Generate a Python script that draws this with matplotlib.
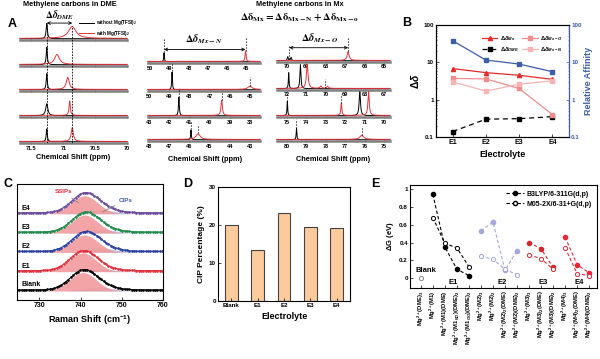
import numpy as np
import matplotlib.pyplot as plt
from matplotlib.lines import Line2D

plt.rcParams['font.family'] = ['Liberation Sans', 'DejaVu Sans']
plt.rcParams['font.weight'] = 'bold'
plt.rcParams['axes.labelweight'] = 'bold'
plt.rcParams['mathtext.fontset'] = 'custom'
plt.rcParams['mathtext.rm'] = 'Liberation Sans:bold'
plt.rcParams['mathtext.it'] = 'Liberation Sans:italic:bold'
plt.rcParams['mathtext.bf'] = 'Liberation Sans:bold'
plt.rcParams['xtick.direction'] = 'in'
plt.rcParams['ytick.direction'] = 'in'
plt.rcParams['axes.linewidth'] = 0.8

W, H = 600, 359

# ---------------- panel A : 13C NMR peaks (position ppm, height, half width) ----------------
dme_xlim = (71.68, 70.0)
dme_ticks = [71.5, 71, 70.5, 70]
dme_ticklabels = ['71.5', '71', '70.5', '70']
dme_ppm_free = [71.26, 71.26, 71.26, 71.26, 71.26]
dme_int_free = [0.95, 1.10, 1.00, 0.75, 0.80]
dme_hw_free = [0.012, 0.010, 0.010, 0.020, 0.010]
dme_ppm_mg = [70.86, 71.10, 70.93, 70.90, 70.86]
dme_int_mg = [0.75, 0.62, 0.75, 0.90, 0.85]
dme_hw_mg = [0.07, 0.045, 0.028, 0.012, 0.02]

mxn_xlim = [(50.1, 44.3), (50.05, 44.5), (43.05, 37.5), (48.05, 42.5)]
mxn_ticks = [[50, 49, 48, 47, 46, 45], [50, 49, 48, 47, 46, 45],
             [43, 42, 41, 40, 39, 38], [48, 47, 46, 45, 44, 43]]
mxn_free = [[(49.27, 0.55, 0.02)], [(48.86, 1.10, 0.02)],
            [(41.52, 1.15, 0.025)], [(45.92, 0.60, 0.02)]]
mxn_mg = [[(45.05, 0.65, 0.03)], [(45.0, 0.20, 0.12)],
          [(39.40, 0.95, 0.04)], [(45.57, 0.35, 0.12)]]
mxn_marks = [[49.27, 45.05], [48.86, 45.0], [41.52, 39.40], [45.92, 45.57]]

mxo_xlim = [(70.5, 64.7), (72.5, 66.7), (75.5, 69.7), (80.5, 74.7)]
mxo_ticks = [[70, 69, 68, 67, 66, 65], [72, 71, 70, 69, 68, 67],
             [75, 74, 73, 72, 71, 70], [80, 79, 78, 77, 76, 75]]
mxo_free = [[(69.95, 0.25, 0.03), (69.78, 0.2, 0.03)],
            [(71.9, 1.0, 0.02), (71.3, 1.5, 0.03)],
            [(74.97, 0.9, 0.02), (71.25, 1.5, 0.04)],
            [(79.5, 0.7, 0.02)]]
mxo_mg = [[(66.85, 0.55, 0.06)],
          [(70.95, 1.5, 0.05), (70.25, 0.15, 0.05), (69.9, 0.12, 0.05)],
          [(72.2, 0.75, 0.03), (70.8, 1.5, 0.04)],
          [(76.15, 0.25, 0.12)]]
mxo_marks = [[69.87, 66.85], [70.05], [74.97, 72.2], [79.5, 76.15]]

# ---------------- panel B ----------------
electrolytes = ['E1', 'E2', 'E3', 'E4']
dd_mx = [6.8, 5.3, 4.5, 3.5]
dd_dme = [0.14, 0.30, 0.31, 0.35]
dd_mxo = [3.7, 3.6, 2.0, 0.4]
dd_mxn = [3.0, 1.7, 2.6, 3.2]
affinity = [38, 11.5, 9.0, 5.6]

# ---------------- panel C : Raman fit components ----------------
raman_names = ['Blank', 'E1', 'E2', 'E3', 'E4']
raman_colors = ['black', '#E0303E', '#2B3FA0', '#1F8A4A', '#6A4C9C']
ssip_center = [740.6, 740.6, 741.0, 741.0, 741.0]
ssip_height = [0.95, 0.97, 0.90, 0.93, 0.93]
cip_center = [744.5, 744.5, 744.8, 744.8, 744.8]
cip_height = [0.18, 0.13, 0.22, 0.19, 0.19]

# ---------------- panel D ----------------
cip_names = ['Blank', 'E1', 'E2', 'E3', 'E4']
cip_percent = [20.0, 13.5, 23.2, 19.5, 19.1]

# ---------------- panel E ----------------
dg_labels = [r'Mg$^{2+}$(DME)$_3$', r'Mg$^{2+}$(M1)', r'Mg$^{2+}$(M1)(DME)',
             r'Mg$^{2+}$(M1$_{NO}$)(DME)$_2$', r'Mg$^{2+}$(M1$_{OO}$)(DME)$_2$',
             r'Mg$^{2+}$(M2)$_3$', r'Mg$^{2+}$(M2)$_2$', r'Mg$^{2+}$(M2)$_2$(DME)',
             r'Mg$^{2+}$(M2)(DME)$_2$',
             r'Mg$^{2+}$(M3)$_3$', r'Mg$^{2+}$(M3)$_2$(DME)', r'Mg$^{2+}$(M3)(DME)$_2$',
             r'Mg$^{2+}$(M4)$_3$', r'Mg$^{2+}$(M4)$_2$(DME)', r'Mg$^{2+}$(M4)(DME)$_2$']
dg_b3lyp = [np.nan, 0.94, 0.35, 0.10, 0.03, 0.53, 0.63, 0.09, 0.31,
            0.40, 0.33, 0.12, 0.46, 0.15, 0.06]
dg_m05 = [0.0, 0.68, 0.39, 0.34, 0.13, 0.25, 0.21, 0.10, 0.04,
          0.26, 0.22, 0.10, 0.34, 0.05, 0.03]
dg_groups = {'E1': (1, 5), 'E2': (5, 9), 'E3': (9, 12), 'E4': (12, 15)}
dg_colors = {'E1': 'black', 'E2': '#A3A8DA', 'E3': '#D22B2B', 'E4': '#EC2538'}


def box(l, t, r, b):
    return [l / W, 1 - b / H, (r - l) / W, (b - t) / H]


def txt(x, y, s, **kw):
    fig.text(x / W, 1 - y / H, s, **kw)


def lorentz(x, peaks):
    y = np.zeros_like(x)
    for p, h, w in peaks:
        y += h * w ** 2 / ((x - p) ** 2 + w ** 2)
    return y


def gauss(x, c, h, s):
    return h * np.exp(-0.5 * ((x - c) / s) ** 2)


fig = plt.figure(figsize=(6, 3.59), dpi=100)


def nmr_row(l, r, base, xlim, ticks, free, mg, labels=True, ticklabels=None):
    ax = fig.add_axes(box(l, base - 26, r, base))
    x = np.linspace(xlim[0], xlim[1], 2000)
    ax.plot(x, lorentz(x, free), color='black', lw=0.7, clip_on=False)
    ax.plot(x, lorentz(x, mg) + 0.02, color='#E8303A', lw=0.7, clip_on=False)
    ax.set_xlim(xlim)
    ax.set_ylim(-0.08, 26 / 16 - 0.08)
    for s in ['top', 'left', 'right']:
        ax.spines[s].set_visible(False)
    ax.spines['bottom'].set_color('#808080')
    ax.spines['bottom'].set_linewidth(1.8)
    ax.set_yticks([])
    ax.set_xticks(ticks)
    if ticklabels is not None:
        ax.set_xticklabels(ticklabels)
    ax.tick_params(axis='x', labelsize=4, length=2, width=0.5, pad=0.8,
                   direction='inout', labelbottom=labels)
    ax.patch.set_alpha(0)
    return ax


def marks(ax, positions, free, mg, up=0.55):
    for p in positions:
        x = np.array([p])
        y0 = max(lorentz(x, free)[0], lorentz(x, mg)[0])
        ax.plot([p, p], [y0 + 0.05, y0 + up], ls=':', color='black', lw=0.8, clip_on=False)


# ---- A: DME column
dme_bases = [40, 66, 91, 117, 143]
for i, base in enumerate(dme_bases):
    nmr_row(20, 127, base, dme_xlim, dme_ticks,
            [(dme_ppm_free[i], dme_int_free[i], dme_hw_free[i])],
            [(dme_ppm_mg[i], dme_int_mg[i], dme_hw_mg[i])], labels=(i == 4),
            ticklabels=dme_ticklabels)
ov = fig.add_axes(box(20, 20, 127, 143))
ov.set_xlim(dme_xlim)
ov.axis('off')
tr = ov.get_xaxis_transform()
ov.plot([dme_ppm_free[0]] * 2, [0, 0.96], transform=tr, color='black', lw=0.6, dashes=(2, 1.5))
ov.plot([dme_ppm_mg[0]] * 2, [0, 0.94], transform=tr, color='black', lw=0.6, dashes=(2, 1.5))
ov.annotate('', xy=(dme_ppm_mg[0], 0.975), xytext=(dme_ppm_free[0], 0.975),
            xycoords=tr, textcoords=tr, annotation_clip=False,
            arrowprops=dict(arrowstyle='<->', lw=0.6, color='black', shrinkA=0, shrinkB=0,
                            mutation_scale=5))
ov.text(71.06, 1.04, r'$\Delta\delta_{DME}$', transform=tr, ha='center', va='center',
        fontsize=7, math_fontfamily='stix')

fig.legend([Line2D([], [], color='black', lw=0.7), Line2D([], [], color='#E8303A', lw=0.7)],
           [r'without Mg(TFSI)$_2$', r'with Mg(TFSI)$_2$'], loc='upper left',
           bbox_to_anchor=(77 / W, 1 - 16 / H), fontsize=3.3, frameon=False,
           handlelength=3.2, handletextpad=0.4, labelspacing=0.3, borderpad=0)

# ---- A: Mx-N column
mxn_bases = [63, 91, 117, 141]
mxn_axes = []
for i, base in enumerate(mxn_bases):
    ax = nmr_row(148, 260, base, mxn_xlim[i], mxn_ticks[i], mxn_free[i], mxn_mg[i])
    marks(ax, mxn_marks[i], mxn_free[i], mxn_mg[i], up=(0.85 if i == 0 else 0.6))
    mxn_axes.append(ax)
tr = mxn_axes[0].get_xaxis_transform()
mxn_axes[0].annotate('', xy=(mxn_marks[0][1], 0.52), xytext=(mxn_marks[0][0], 0.52),
                     xycoords=tr, textcoords=tr, annotation_clip=False,
                     arrowprops=dict(arrowstyle='<->', lw=0.6, color='black', shrinkA=0,
                                     shrinkB=0, mutation_scale=5))
mxn_axes[0].text(47.2, 0.9, r'$\Delta\delta_{Mx-N}$', transform=tr, ha='center', va='center',
                 fontsize=7.5, math_fontfamily='stix')

# ---- A: Mx-O column
mxo_bases = [62, 90, 117, 141]
mxo_axes = []
for i, base in enumerate(mxo_bases):
    ax = nmr_row(277, 390, base, mxo_xlim[i], mxo_ticks[i], mxo_free[i], mxo_mg[i])
    marks(ax, mxo_marks[i], mxo_free[i], mxo_mg[i], up=(0.9 if i == 0 else 0.6))
    mxo_axes.append(ax)
tr = mxo_axes[0].get_xaxis_transform()
mxo_axes[0].annotate('', xy=(mxo_marks[0][1], 0.55), xytext=(mxo_marks[0][0], 0.55),
                     xycoords=tr, textcoords=tr, annotation_clip=False,
                     arrowprops=dict(arrowstyle='<->', lw=0.6, color='black', shrinkA=0,
                                     shrinkB=0, mutation_scale=5))
mxo_axes[0].text(68.3, 0.93, r'$\Delta\delta_{Mx-O}$', transform=tr, ha='center', va='center',
                 fontsize=7.5, math_fontfamily='stix')

txt(8, 24, 'A', fontsize=9, ha='left', va='center')
txt(70, 5, 'Methylene carbons in DME', fontsize=5.3, ha='center', va='center')
txt(300, 5, 'Methylene carbons in Mx', fontsize=5.3, ha='center', va='center')
txt(300, 18, r'$\mathbf{\Delta\delta_{Mx}=\Delta\delta_{Mx-N}+\Delta\delta_{Mx-o}}$',
    fontsize=7.5, ha='center', va='center', math_fontfamily='stix')
for xc, yc in [(73, 157), (205, 160), (333, 160)]:
    txt(xc, yc, 'Chemical Shift (ppm)', fontsize=5.3, ha='center', va='center')

# ---- B
axB = fig.add_axes(box(436, 25, 569, 137))
xb = np.arange(1, len(electrolytes) + 1)
axB.plot(xb, dd_mx, '-^', color='#E32B2B', ms=3, lw=0.9, label=r'$\Delta\delta_{Mx}$')
axB.plot(xb, dd_dme, '--s', color='black', ms=2.5, lw=0.9, dashes=(4, 3),
         label=r'$\Delta\delta_{DME}$')
axB.plot(xb, dd_mxo, '-s', color='#F08C8C', ms=2.5, lw=0.9, label=r'$\Delta\delta_{Mx-O}$')
axB.plot(xb, dd_mxn, '-s', color='#F6B3B3', ms=2.5, lw=0.9, label=r'$\Delta\delta_{Mx-N}$')
axB.set_yscale('log')
axB.set_ylim(0.1, 100)
axB.set_xlim(0.5, 4.5)
axB.set_xticks(xb)
axB.set_xticklabels(electrolytes)
axB.set_yticks([0.1, 1, 10, 100])
axB.set_yticklabels(['0.1', '1', '10', '100'])
axB.tick_params(labelsize=4.5, length=2, width=0.5, pad=1.5)
axB.tick_params(axis='x', labelsize=5)
axB.tick_params(which='minor', length=1, width=0.4)
axB.set_xlabel('Electrolyte', fontsize=6.5, labelpad=3)
axB.set_ylabel(r'$\Delta\delta$', fontsize=7.5, labelpad=2)
axB.legend(ncol=2, loc='upper right', bbox_to_anchor=(0.99, 0.97), fontsize=4.2,
           frameon=False, handlelength=2.6, columnspacing=0.6, handletextpad=0.4,
           labelspacing=0.5)
axB2 = axB.twinx()
axB2.plot(xb, affinity, '-s', color='#3D5DA8', ms=2.5, lw=0.9)
axB2.set_yscale('log')
axB2.set_ylim(0.1, 100)
axB2.set_yticks([0.1, 1, 10, 100])
axB2.set_yticklabels(['0.1', '1', '10', '100'])
axB2.tick_params(axis='y', labelsize=4.5, length=2, width=0.5, pad=1.5, colors='#3D5DA8')
axB2.tick_params(which='minor', length=1, width=0.4, colors='#3D5DA8')
axB2.spines['right'].set_color('#3D5DA8')
axB2.set_ylabel('Relative Affinity', fontsize=6.5, color='#3D5DA8', labelpad=2)
txt(407, 23, 'B', fontsize=9, ha='center', va='center')

# ---- C
axC = fig.add_axes(box(17, 184, 163, 300))
xr = np.linspace(724.6, 760, 500)
for i, name in enumerate(raman_names):
    s = gauss(xr, ssip_center[i], ssip_height[i], 3.2)
    c = gauss(xr, cip_center[i], cip_height[i], 3.6)
    axC.fill_between(xr, i, i + c, color='#B9CCEB', lw=0)
    axC.fill_between(xr, i, i + s, color='#F29A9C', lw=0, alpha=0.9)
    axC.plot(xr, i + s + c, color='white', lw=0.7)
    axC.plot(xr, i + s + c + 0.05, color=raman_colors[i], lw=0.8)
    axC.plot(xr[::8], i + s[::8] + c[::8] + 0.05, 'o', ms=0.9, color=raman_colors[i])
    axC.text(725.8, i + (0.32 if i == 0 else 0.28), name, fontsize=5, va='center', ha='left')
axC.set_xlim(724.6, 760)
axC.set_ylim(-0.47, 5.54)
axC.set_yticks([])
axC.set_xticks([730, 740, 750, 760])
axC.tick_params(labelsize=5, length=2, width=0.5, pad=1.5)
axC.set_xlabel(r'Raman Shift (cm$^{-1}$)', fontsize=6.5, labelpad=3)
axC.annotate('SSIPs', xy=(739.5, 4.56), xytext=(735.8, 5.13), fontsize=4.5, color='#E0303E',
             ha='center', va='center',
             arrowprops=dict(arrowstyle='-', lw=0.5, color='#777777', shrinkA=1, shrinkB=0))
axC.annotate('CIPs', xy=(745.3, 4.09), xytext=(751, 4.71), fontsize=4.5, color='#3D5DA8',
             ha='center', va='center',
             arrowprops=dict(arrowstyle='-', lw=0.5, color='#777777', shrinkA=1, shrinkB=0))
txt(8, 184, 'C', fontsize=9, ha='center', va='center')

# ---- D
axD = fig.add_axes(box(218, 187, 350, 301))
xd = np.arange(len(cip_names))
axD.bar(xd, cip_percent, width=0.48, color='#FCCB9C', edgecolor='#444444', lw=0.8)
axD.set_xlim(-0.5, 4.5)
axD.set_ylim(0, 30)
axD.set_xticks(xd)
axD.set_xticklabels(cip_names)
axD.set_yticks([0, 10, 20, 30])
axD.tick_params(labelsize=4.5, length=2, width=0.5, pad=1.5)
axD.set_xlabel('Electrolyte', fontsize=6.5, labelpad=3)
axD.set_ylabel('CIP Percentage (%)', fontsize=6, labelpad=3)
txt(188, 184, 'D', fontsize=9, ha='center', va='center')

# ---- E
axE = fig.add_axes(box(410, 185, 597, 288))
xe = np.arange(len(dg_labels))
axE.plot(xe[:1], dg_m05[:1], 'o', mfc='white', mec='#888888', ms=3, mew=0.7)
for g, (a, b) in dg_groups.items():
    col = dg_colors[g]
    axE.plot(xe[a:b], dg_b3lyp[a:b], '--o', color=col, ms=3, lw=0.8, dashes=(3, 2))
    axE.plot(xe[a:b], dg_m05[a:b], '--o', color=col, mfc='white', mec=col, ms=3, lw=0.8,
             mew=0.7, dashes=(3, 2))
for name, xpos, ypos in [('Blank', 0.4, 0.09), ('E1', 2.7, -0.045), ('E2', 6.8, -0.045),
                         ('E3', 10.2, -0.045), ('E4', 13.2, -0.045)]:
    axE.text(xpos, ypos, name, fontsize=5.5, ha='center', va='center')
axE.set_xlim(-0.9, 14.65)
axE.set_ylim(-0.11, 1.045)
axE.set_yticks([0, 0.2, 0.4, 0.6, 0.8, 1])
axE.set_yticklabels(['0', '0.2', '0.4', '0.6', '0.8', '1'])
axE.set_xticks(xe)
axE.set_xticklabels(dg_labels, rotation=90)
axE.tick_params(labelsize=4.5, length=2, width=0.5, pad=1.5)
axE.tick_params(axis='x', labelsize=4.2)
axE.set_ylabel(r'$\Delta$G (eV)', fontsize=5.5, labelpad=2)
axE.legend([Line2D([], [], color='black', ls='--', marker='o', ms=3, lw=0.8, dashes=(3, 2)),
            Line2D([], [], color='black', ls='--', marker='o', mfc='white', ms=3, lw=0.8,
                   dashes=(3, 2))],
           ['B3LYP/6-311G(d,p)', 'M05-2X/6-31+G(d,p)'], loc='upper right',
           bbox_to_anchor=(1.0, 0.99), fontsize=5, frameon=False, handlelength=2.6,
           handletextpad=0.4, labelspacing=0.4, borderpad=0.2)
txt(375, 184, 'E', fontsize=9, ha='center', va='center')

fig.savefig('out.png', dpi=100)
